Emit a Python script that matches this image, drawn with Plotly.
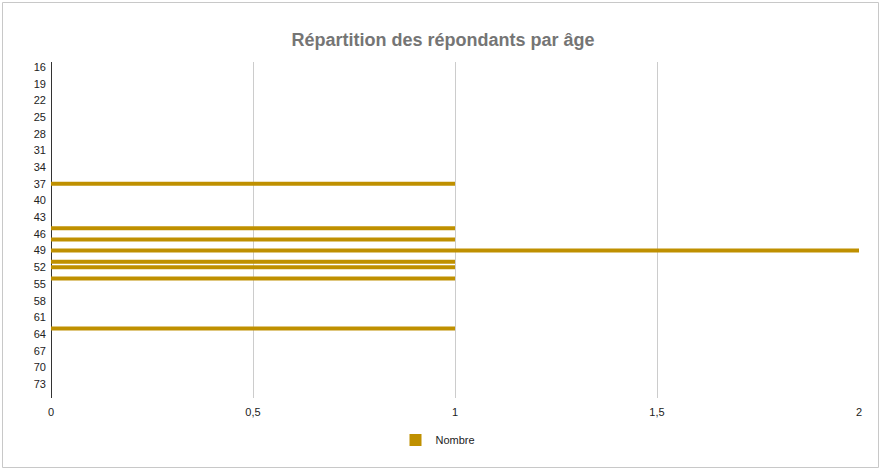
import plotly.graph_objects as go

ages = [37, 45, 47, 49, 51, 52, 54, 63]
counts = [1, 1, 1, 2, 1, 1, 1, 1]
tick_ages = list(range(16, 74, 3))
x_ticks = [0, 0.5, 1, 1.5, 2]
x_labels = ["0", "0,5", "1", "1,5", "2"]

W, H = 881, 470
L, R, T, B = 51, 22, 62, 72
pw, ph = W - L - R, H - T - B

fig = go.Figure()
fig.add_trace(go.Bar(
    y=ages, x=counts, orientation="h", name="Nombre",
    marker=dict(color="#bf9000", line=dict(width=0)), width=0.72,
    showlegend=True,
))

fig.update_layout(
    width=W, height=H,
    margin=dict(l=L, r=R, t=T, b=B),
    paper_bgcolor="white", plot_bgcolor="white",
    font=dict(family="Liberation Sans, Arial, sans-serif", size=11, color="#222222"),
    title=dict(text="<b>Répartition des répondants par âge</b>", x=(443) / W, xanchor="center",
               y=1 - 40 / H, yanchor="middle",
               font=dict(size=18, color="#757575", family="Liberation Sans, Arial, sans-serif")),
    showlegend=True,
    legend=dict(orientation="h", x=(438 - L) / pw, xanchor="center", y=-(440 - (T + ph)) / ph, yanchor="middle",
                font=dict(size=11, color="#222222")),
    bargap=0.28,
)
fig.update_xaxes(range=[0, 2], tickvals=x_ticks, ticktext=x_labels, showgrid=True,
                 gridcolor="#cccccc", gridwidth=1, zeroline=True, zerolinecolor="#333333",
                 zerolinewidth=1, showline=False, ticks="", fixedrange=True, ticklabelstandoff=6)
fig.update_yaxes(range=[75.5, 15.1], tickvals=tick_ages, showgrid=False, zeroline=False,
                 showline=False, ticks="", ticklabelstandoff=4, fixedrange=True)

fig.add_shape(type="rect", xref="paper", yref="paper",
              x0=(2.5 - L) / pw, x1=(878.5 - L) / pw,
              y0=-(467.5 - T - ph) / ph, y1=1 + (T - 2.5) / ph,
              line=dict(color="#c8c8c8", width=1), layer="below")

fig.write_html("out.html", config={"displayModeBar": False},
               post_script="document.body.style.margin='0';document.body.style.overflow='hidden';")
